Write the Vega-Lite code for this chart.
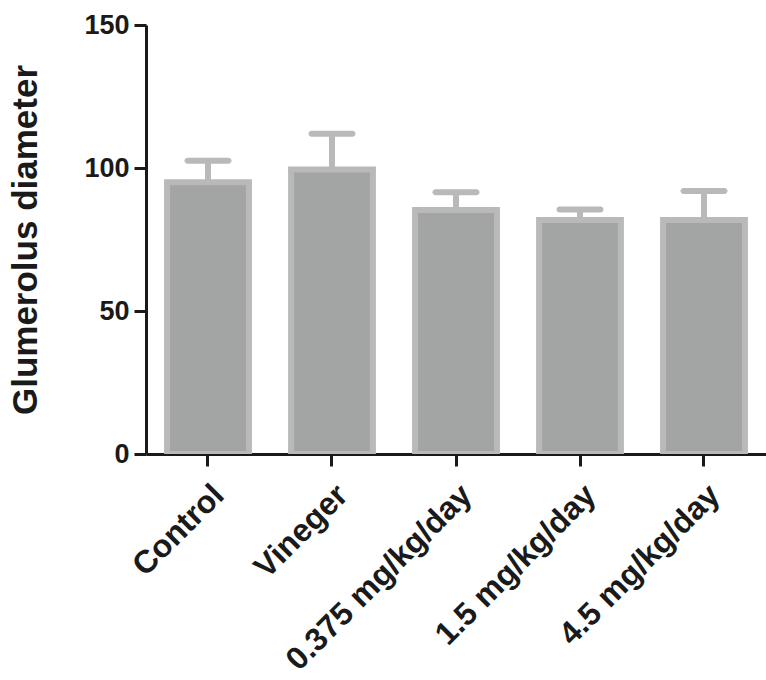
{
  "$schema": "https://vega.github.io/schema/vega-lite/v6.json",
  "autosize": {"type": "none"},
  "padding": {"left": 146, "top": 25, "right": 0, "bottom": 226},
  "width": 620,
  "height": 429,
  "background": "white",
  "config": {
    "view": {"stroke": null},
    "font": "Liberation Sans",
    "axis": {
      "grid": false,
      "domainColor": "#1a1a1a",
      "domainWidth": 3,
      "tickColor": "#1a1a1a",
      "tickWidth": 3,
      "tickSize": 12,
      "labelColor": "#1a1a1a",
      "labelFont": "Liberation Sans",
      "labelFontWeight": "bold",
      "labelFontSize": 27,
      "titleFont": "Liberation Sans",
      "titleFontWeight": "bold",
      "titleColor": "#1a1a1a",
      "zindex": 1
    }
  },
  "data": {
    "values": [
      {"group": "Control", "mean": 95, "upper": 102.5},
      {"group": "Vineger", "mean": 99.5, "upper": 112},
      {"group": "0.375 mg/kg/day", "mean": 85.3, "upper": 91.5},
      {"group": "1.5 mg/kg/day", "mean": 81.8, "upper": 85.5},
      {"group": "4.5 mg/kg/day", "mean": 81.8, "upper": 92}
    ]
  },
  "encoding": {
    "x": {
      "field": "group",
      "type": "nominal",
      "sort": null,
      "scale": {"paddingInner": 0.34, "paddingOuter": 0.17},
      "axis": {"title": null, "labelAngle": -45, "labelPadding": 13, "labelFontSize": 32, "labelLimit": 500}
    }
  },
  "layer": [
    {
      "mark": {"type": "rule", "color": "#b9b9b9", "strokeWidth": 6},
      "encoding": {
        "y": {"field": "mean", "type": "quantitative", "scale": {"domain": [0, 150], "nice": false}},
        "y2": {"field": "upper"}
      }
    },
    {
      "mark": {"type": "tick", "color": "#b9b9b9", "thickness": 6, "size": 47, "cornerRadius": 3, "opacity": 1},
      "encoding": {
        "y": {"field": "upper", "type": "quantitative", "scale": {"domain": [0, 150], "nice": false}}
      }
    },
    {
      "mark": {"type": "bar", "fill": "#a3a5a4", "stroke": "#b9b9b9", "strokeWidth": 6, "clip": true},
      "encoding": {
        "y": {
          "field": "mean",
          "type": "quantitative",
          "scale": {"domain": [0, 150], "nice": false},
          "axis": {
            "title": "Glumerolus diameter",
            "titleFontSize": 35,
            "titlePadding": 40,
            "values": [0, 50, 100, 150],
            "labelPadding": 5
          }
        }
      }
    }
  ]
}
